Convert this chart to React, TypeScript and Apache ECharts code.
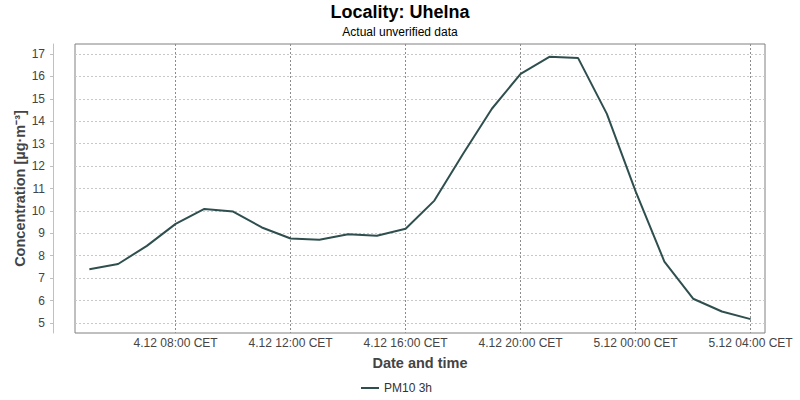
import React, { useEffect, useRef } from "react";
import * as echarts from "echarts";

// Hourly PM10 3h values, local time (CET)
const times: string[] = [
  "2023-12-04T05:00", "2023-12-04T06:00", "2023-12-04T07:00", "2023-12-04T08:00",
  "2023-12-04T09:00", "2023-12-04T10:00", "2023-12-04T11:00", "2023-12-04T12:00",
  "2023-12-04T13:00", "2023-12-04T14:00", "2023-12-04T15:00", "2023-12-04T16:00",
  "2023-12-04T17:00", "2023-12-04T18:00", "2023-12-04T19:00", "2023-12-04T20:00",
  "2023-12-04T21:00", "2023-12-04T22:00", "2023-12-04T23:00", "2023-12-05T00:00",
  "2023-12-05T01:00", "2023-12-05T02:00", "2023-12-05T03:00", "2023-12-05T04:00",
];
const pm10: number[] = [
  7.4, 7.63, 8.44, 9.42, 10.09, 9.97, 9.26, 8.77, 8.71, 8.96, 8.89, 9.2,
  10.46, 12.55, 14.56, 16.12, 16.88, 16.82, 14.33, 10.87, 7.74, 6.08, 5.51, 5.17,
];
const xTickTimes: string[] = [
  "2023-12-04T08:00", "2023-12-04T12:00", "2023-12-04T16:00",
  "2023-12-04T20:00", "2023-12-05T00:00", "2023-12-05T04:00",
];
const yTicks: number[] = [5, 6, 7, 8, 9, 10, 11, 12, 13, 14, 15, 16, 17];
const seriesName = "PM10 3h";

function toMs(s: string): number {
  const [d, t] = s.split("T");
  const [Y, M, D] = d.split("-").map(Number);
  const [h, m] = t.split(":").map(Number);
  return Date.UTC(Y, M - 1, D, h, m);
}
const pad = (n: number) => (n < 10 ? "0" + n : "" + n);
function fmt(ms: number): string {
  const d = new Date(ms);
  return `${d.getUTCDate()}.${d.getUTCMonth() + 1} ${pad(d.getUTCHours())}:${pad(d.getUTCMinutes())} CET`;
}

const FONT = "Liberation Sans, Arial, sans-serif";
const HALF_HOUR = 30 * 60 * 1000;

export default function App() {
  const ref = useRef<HTMLDivElement>(null);
  useEffect(() => {
    if (!ref.current) return;
    const chart = echarts.init(ref.current, undefined, { renderer: "svg" });
    const xs = times.map(toMs);
    chart.setOption({
      animation: false,
      backgroundColor: "#ffffff",
      textStyle: { fontFamily: FONT },
      title: {
        text: "Locality: Uhelna",
        subtext: "Actual unverified data",
        left: "center",
        top: -2,
        itemGap: 5,
        textStyle: { fontFamily: FONT, fontSize: 18, fontWeight: "bold", color: "#000" },
        subtextStyle: { fontFamily: FONT, fontSize: 12, color: "#000" },
      },
      legend: {
        left: 356,
        top: 377,
        icon: "rect",
        itemWidth: 18,
        itemHeight: 2,
        itemGap: 10,
        textStyle: { fontFamily: FONT, fontSize: 12, color: "#333" },
        data: [seriesName],
      },
      grid: {
        left: 75,
        right: 35,
        top: 44,
        bottom: 67,
        show: true,
        borderColor: "#808080",
        borderWidth: 1,
      },
      xAxis: {
        type: "value",
        min: xs[0] - HALF_HOUR,
        max: xs[xs.length - 1] + HALF_HOUR,
        name: "Date and time",
        nameLocation: "middle",
        nameGap: 22,
        nameMoveOverlap: false,
        nameTextStyle: { fontFamily: FONT, fontSize: 14.5, fontWeight: "bold", color: "#444" },
        axisLine: { show: false },
        axisTick: { show: false, customValues: xTickTimes.map(toMs) },
        axisLabel: {
          customValues: xTickTimes.map(toMs),
          formatter: (v: number) => fmt(v),
          fontFamily: FONT,
          fontSize: 12,
          color: "#444",
          margin: 4,
        },
        splitLine: { show: true, lineStyle: { type: [2, 2], color: "#8c8c8c", width: 1 } },
      },
      yAxis: {
        type: "value",
        min: 4.55,
        max: 17.45,
        offset: 22,
        name: "Concentration [µg·m⁻³]",
        nameLocation: "middle",
        nameGap: 26,
        nameMoveOverlap: false,
        nameTextStyle: { fontFamily: FONT, fontSize: 14.5, fontWeight: "bold", color: "#444" },
        axisLine: { show: true, lineStyle: { color: "#c0c0c0", width: 1 } },
        axisTick: { show: true, length: 3, customValues: yTicks, lineStyle: { color: "#c0c0c0" } },
        axisLabel: {
          customValues: yTicks,
          fontFamily: FONT,
          fontSize: 12,
          color: "#444",
          margin: 8,
        },
        splitLine: { show: true, lineStyle: { type: [2, 2], color: "#c8c8c8", width: 1 } },
      },
      series: [
        {
          name: seriesName,
          type: "line",
          symbol: "none",
          color: "#2f4f4f",
          lineStyle: { color: "#2f4f4f", width: 2 },
          data: xs.map((x, i) => [x, pm10[i]]),
        },
      ],
    });
    return () => chart.dispose();
  }, []);
  return (
    <div
      ref={ref}
      style={{ position: "fixed", left: 0, top: 0, width: 800, height: 400 }}
    />
  );
}
